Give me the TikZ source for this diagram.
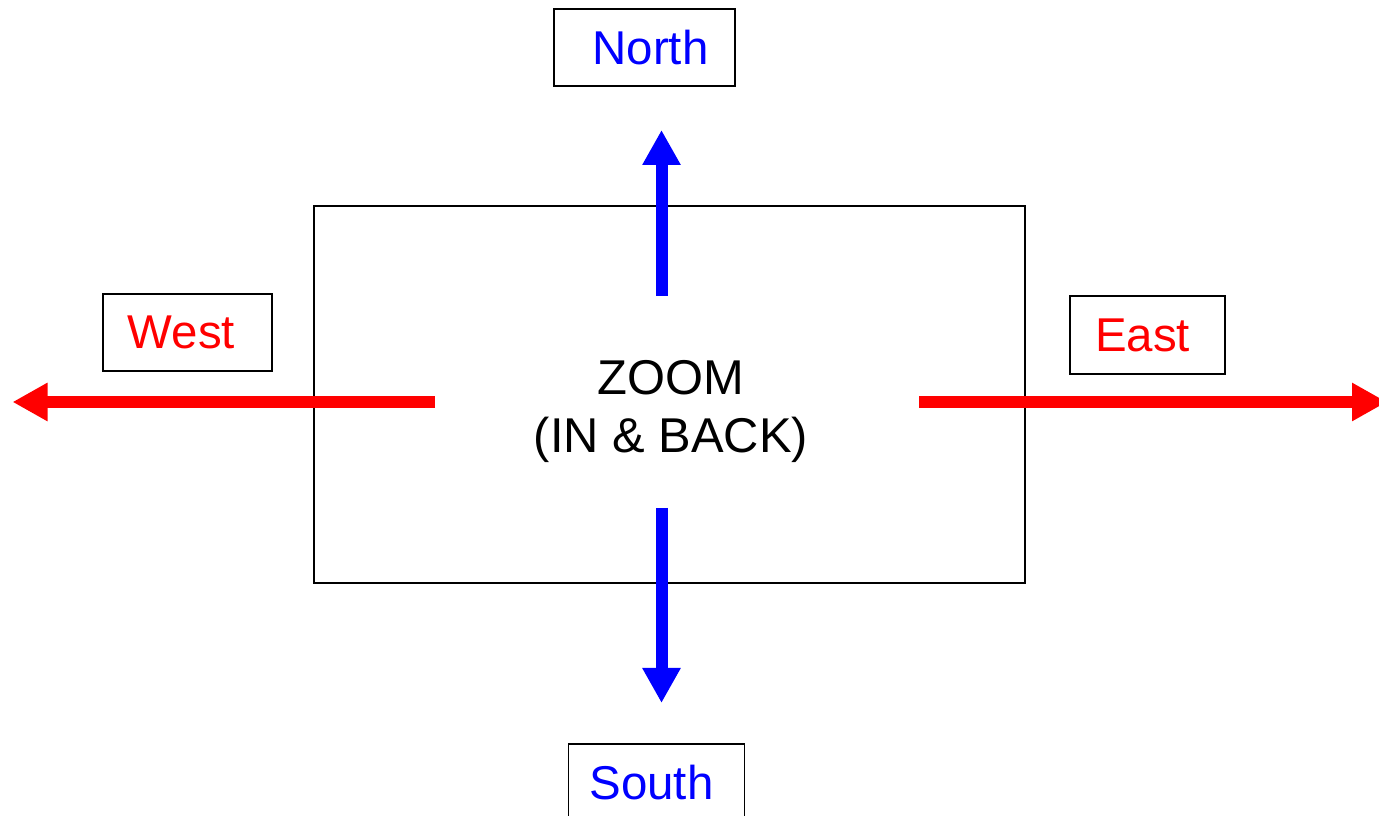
\documentclass[tikz,border=0pt]{standalone}
\usepackage{fontspec}
\setmainfont{Liberation Sans}
\definecolor{dirblue}{RGB}{0,0,255}
\definecolor{dirred}{RGB}{255,0,0}
\usetikzlibrary{arrows.meta,positioning}

\begin{document}
\begin{tikzpicture}
        \tikzset{dirbox/.style={rectangle, draw, line width=1.1pt, inner sep=0pt,
            minimum height=1.55cm, font=\fontsize{27}{33}\selectfont},
          bigarrow/.style={line width=0.24cm, -{Triangle[length=0.7cm, width=0.72cm]}}}
        \useasboundingbox (0,0) rectangle (27.58,16.32);
        \clip (0,0) rectangle (27.58,16.32);
        % Frame in the middle
        \node[draw, line width=1.1pt, minimum width=14.22cm, minimum height=7.54cm] (frame) at (13.39,8.43) {};
        \node[align=center, font=\fontsize{27.8}{33}\selectfont] (zoom) at (13.42,8.09) {ZOOM\\(IN \& BACK)};
        % Direction labels
        \node[dirbox, minimum width=3.62cm, text=dirblue] (north) at (12.89,15.37) {\hspace*{0.24cm}North};
        \node[dirbox, minimum width=3.52cm, text=dirblue] (south) at (13.13,0.67)  {South\hspace*{0.2cm}};
        \node[dirbox, minimum width=3.38cm, text=dirred]  (west)  at (3.75,9.67)   {West\hspace*{0.24cm}};
        \node[dirbox, minimum width=3.10cm, text=dirred]  (east)  at (22.95,9.62)  {East\hspace*{0.2cm}};
        % Arrow ends
        \coordinate (nfrom) at (13.23,10.40);
        \coordinate (nto)   at (13.23,13.72);
        \coordinate (sfrom) at (13.23,6.16);
        \coordinate (sto)   at (13.23,2.26);
        \coordinate (wfrom) at (8.70,8.28);
        \coordinate (wto)   at (0.25,8.28);
        \coordinate (efrom) at (18.38,8.28);
        \coordinate (eto)   at (27.74,8.28);
        % Arrows
        \draw[bigarrow, dirblue] (nfrom) -- (nto);
        \draw[bigarrow, dirblue] (sfrom) -- (sto);
        \draw[bigarrow, dirred]  (wfrom) -- (wto);
        \draw[bigarrow, dirred]  (efrom) -- (eto);
      \end{tikzpicture}
\end{document}
